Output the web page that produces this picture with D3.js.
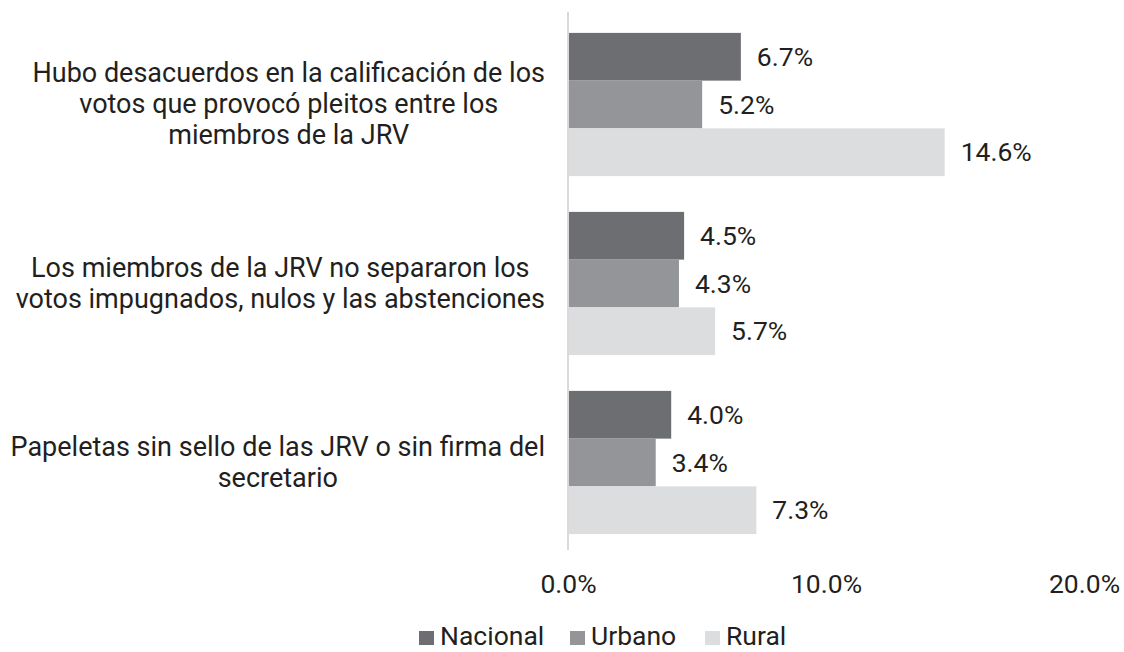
<!DOCTYPE html>
<html>
<head>
<meta charset="utf-8">
<script src="https://cdn.jsdelivr.net/npm/d3@7"></script>
<style>
  html, body { margin: 0; padding: 0; background: #fff; }
  svg { display: block; font-family: Roboto, "Noto Sans", sans-serif; }
</style>
</head>
<body>
<svg id="chart" width="1124" height="652"></svg>
<script>
const categories = [
  ["Hubo desacuerdos en la calificación de los", "votos que provocó pleitos entre los", "miembros de la JRV"],
  ["Los miembros de la JRV no separaron los", "votos impugnados, nulos y las abstenciones"],
  ["Papeletas sin sello de las JRV o sin firma del", "secretario"]
];
const seriesNames = ["Nacional", "Urbano", "Rural"];
const nacional = [6.7, 4.5, 4.0];
const urbano = [5.2, 4.3, 3.4];
const rural = [14.6, 5.7, 7.3];
const seriesValues = [nacional, urbano, rural];
const colors = ["#6d6e71", "#939598", "#dcddde"];
const tickValues = [0, 10, 20];

const svg = d3.select("#chart");
const fontSize = 26.5;
const catFontSize = 27;
const textColor = "#231f20";

const x = d3.scaleLinear().domain([0, 20]).range([568, 1084]);
const y = d3.scaleBand().domain(d3.range(categories.length)).range([15, 552])
  .paddingInner(0.2).paddingOuter(0.1);
const ySub = d3.scaleBand().domain(d3.range(seriesNames.length)).range([0, y.bandwidth()]);

// bars
const groups = svg.selectAll("g.grp").data(categories).join("g")
  .attr("class", "grp")
  .attr("transform", (d, i) => `translate(0,${y(i)})`);

groups.each(function(d, i) {
  const g = d3.select(this);
  seriesValues.forEach((vals, s) => {
    g.append("rect")
      .attr("x", x(0))
      .attr("y", ySub(s))
      .attr("width", x(vals[i]) - x(0))
      .attr("height", ySub.bandwidth())
      .attr("fill", colors[s]);
    g.append("text")
      .attr("x", x(vals[i]) + 16)
      .attr("y", ySub(s) + ySub.bandwidth() / 2)
      .attr("dy", "0.35em")
      .attr("font-size", fontSize)
      .attr("fill", textColor)
      .text(vals[i].toFixed(1) + "%");
  });
});

// vertical axis line
svg.append("line")
  .attr("x1", x(0)).attr("x2", x(0))
  .attr("y1", 12).attr("y2", 550)
  .attr("stroke", "#d9d9d9").attr("stroke-width", 2);

// category labels: block right-aligned, lines centered within block
const rightEdge = 545;
const lineH = 31;
categories.forEach((lines, i) => {
  const cy = y(i) + y.bandwidth() / 2;
  const t = svg.append("text")
    .attr("font-size", catFontSize)
    .attr("fill", textColor)
    .attr("text-anchor", "middle");
  const tspans = lines.map((ln, k) => t.append("tspan").text(ln));
  const widths = tspans.map(ts => ts.node().getComputedTextLength());
  const maxW = d3.max(widths);
  const cx = rightEdge - maxW / 2;
  tspans.forEach((ts, k) => {
    ts.attr("x", cx)
      .attr("y", cy + (k - (lines.length - 1) / 2) * lineH)
      .attr("dy", "0.32em");
  });
});

// x axis tick labels
const xAxis = d3.axisBottom(x).tickValues(tickValues)
  .tickFormat(d => d.toFixed(1) + "%").tickSize(0).tickPadding(0);
const ax = svg.append("g").attr("transform", "translate(0,593)").call(xAxis);
ax.select(".domain").remove();
ax.selectAll("text").attr("font-size", fontSize).attr("fill", textColor)
  .attr("dy", null)
  .attr("font-family", "Roboto, 'Noto Sans', sans-serif");

// legend
const legendX = [419, 570, 705];
const legend = svg.append("g");
seriesNames.forEach((name, s) => {
  legend.append("rect")
    .attr("x", legendX[s]).attr("y", 631)
    .attr("width", 15).attr("height", 14)
    .attr("fill", colors[s]);
  legend.append("text")
    .attr("x", legendX[s] + 21).attr("y", 645)
    .attr("font-size", fontSize)
    .attr("fill", textColor)
    .text(name);
});
</script>
</body>
</html>
